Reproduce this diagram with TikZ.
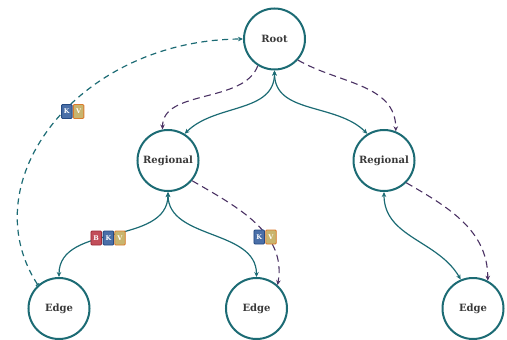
\documentclass[tikz,border=0pt]{standalone}
\usepackage{fontspec}
\setmainfont{DejaVu Serif}
\usetikzlibrary{arrows.meta}
\definecolor{teal}{HTML}{1C6B74}
\definecolor{purp}{HTML}{4B3264}
\definecolor{txt}{HTML}{3A3A3A}
\definecolor{bfill}{HTML}{C24E5A}
\definecolor{bline}{HTML}{9B2A36}
\definecolor{kfill}{HTML}{4A6FA8}
\definecolor{kline}{HTML}{254A82}
\definecolor{vfill}{HTML}{C9B56E}
\definecolor{vline}{HTML}{DB7A2C}
\tikzset{
  srv/.style={circle,draw=teal,line width=2pt,fill=white,minimum size=61pt,inner sep=0pt,
    text=txt,font=\bfseries\fontsize{10}{12}\selectfont},
  link/.style={draw=teal,line width=1.2pt,{Stealth[length=5pt,width=4.5pt]}-{Stealth[length=5pt,width=4.5pt]}},
  repl/.style={draw=purp,line width=1.1pt,dash pattern=on 7pt off 4.5pt,-{Stealth[length=5pt,width=4.5pt]}},
  sync/.style={draw=teal,line width=1.2pt,dash pattern=on 6pt off 4.5pt,{Bar[width=4pt]}-{Stealth[length=5pt,width=4.5pt]}},
  tag/.style={draw,line width=0.9pt,rounded corners=1pt,minimum width=10.5pt,minimum height=14pt,inner sep=0pt,
    text=white,font=\bfseries\fontsize{6.5}{7}\selectfont},
  tb/.style={tag,fill=bfill,draw=bline},
  tk/.style={tag,fill=kfill,draw=kline},
  tv/.style={tag,fill=vfill,draw=vline},
}
\begin{document}
\begin{tikzpicture}[x=1pt,y=-1pt]
\useasboundingbox (0,0) rectangle (507,340);
\node[srv] (root) at (274.5,39) {Root};
\node[srv] (reg1) at (168,160.5) {Regional};
\node[srv] (reg2) at (384,160.5) {Regional};
\node[srv] (edge1) at (59,308.5) {Edge};
\node[srv] (edge2) at (256.5,308.5) {Edge};
\node[srv] (edge3) at (473,308.5) {Edge};

\draw[link] (root.south) to[out=-90,in=45] (reg1.58);
\draw[link] (root.south) to[out=-90,in=135] (reg2.122);
\draw[repl] (root.238) to[out=-110,in=90,looseness=0.9] (reg1.100);
\draw[repl] (root.-42) to[out=-30,in=90] (reg2.68);

\draw[link] (reg1.south) to[out=-90,in=90] (edge1.north);
\draw[link] (reg1.south) to[out=-90,in=90] (edge2.north);
\draw[repl] (reg1.-40) to[out=-30,in=80] (edge2.48);

\draw[link] (reg2.south) to[out=-90,in=120] (edge3.113);
\draw[repl] (reg2.-45) to[out=-30,in=90] (edge3.62);

\draw[sync] (edge1.132) .. controls (-30,180) and (80,40) .. (root.west);

\node[tk] (k1) at (66.8,111.5) {K};
\node[tv] (v1) at (78.6,111.5) {V};
\node[tb] (b2) at (96.2,238) {B};
\node[tk] (k2) at (108.4,238) {K};
\node[tv] (v2) at (120,238) {V};
\node[tk] (k3) at (259.2,237) {K};
\node[tv] (v3) at (271,237) {V};
\end{tikzpicture}
\end{document}
